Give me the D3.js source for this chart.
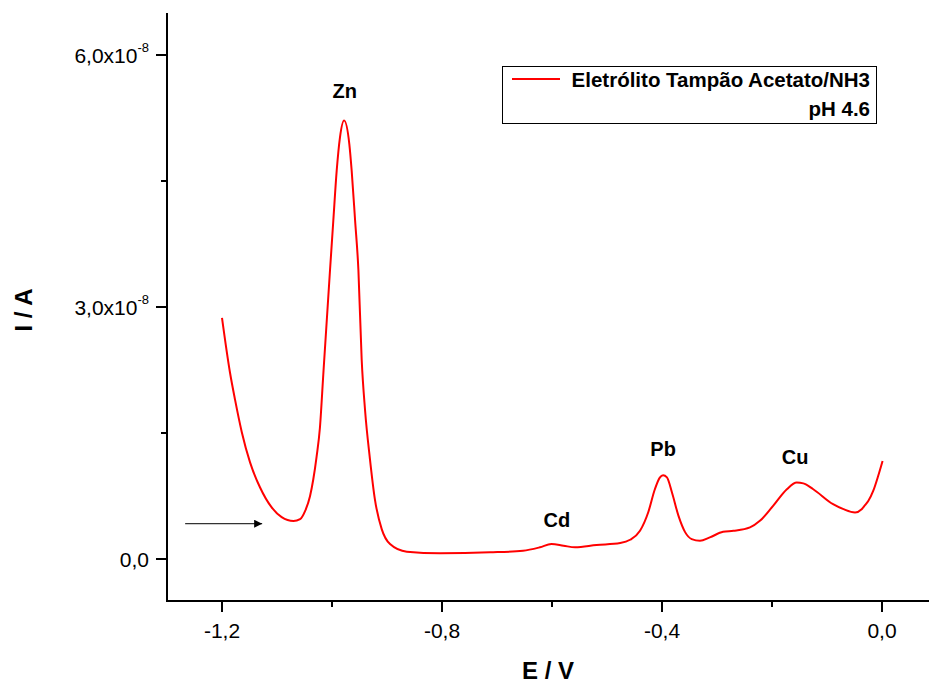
<!DOCTYPE html>
<html>
<head>
<meta charset="utf-8">
<script src="https://cdn.jsdelivr.net/npm/d3@7"></script>
<style>
  body { margin: 0; background: #fff; }
  text { font-family: "Liberation Sans", Arial, sans-serif; }
</style>
</head>
<body>
<div id="chart"></div>
<script>
// potential (V) and current (1e-8 A)
const potential = [-1.2, -1.1855, -1.1764, -1.164, -1.149, -1.131, -1.110, -1.0915, -1.070, -1.058,
  -1.049, -1.040, -1.034, -1.028, -1.022, -1.0158, -1.0036, -0.9976, -0.9915,
  -0.9855, -0.978, -0.9685, -0.9642, -0.958, -0.952, -0.946, -0.940, -0.931, -0.922,
  -0.9096, -0.8945, -0.864, -0.8036, -0.7127, -0.6527, -0.622, -0.601, -0.579, -0.558,
  -0.519, -0.476, -0.458, -0.440, -0.425, -0.413, -0.404, -0.398, -0.391, -0.382,
  -0.370, -0.358, -0.346, -0.331, -0.313, -0.289, -0.270, -0.240, -0.222, -0.198,
  -0.173, -0.155, -0.143, -0.125, -0.089, -0.070, -0.049, -0.037, -0.031, -0.025,
  -0.016, -0.007, 0.001];
const current = [2.87, 2.22, 1.90, 1.51, 1.15, 0.854, 0.617, 0.498, 0.451, 0.474,
  0.569, 0.747, 0.949, 1.22, 1.56, 2.2, 3.44, 4.03, 4.62,
  5.02, 5.22, 4.94, 4.62, 4.03, 3.44, 2.37, 1.78, 1.19, 0.71,
  0.356, 0.178, 0.087, 0.068, 0.079, 0.098, 0.139, 0.178, 0.158, 0.139,
  0.166, 0.19, 0.229, 0.336, 0.557, 0.83, 0.969, 0.996, 0.972, 0.795,
  0.513, 0.32, 0.237, 0.217, 0.257, 0.324, 0.336, 0.376, 0.454, 0.632,
  0.83, 0.91, 0.90, 0.83, 0.652, 0.593, 0.554, 0.593, 0.64, 0.69,
  0.81, 0.988, 1.166];

const xTicks = [-1.2, -0.8, -0.4, 0.0];
const xMinorTicks = [-1.0, -0.6, -0.2];
const yTicks = [0, 3, 6];
const yMinorTicks = [1.5, 4.5];

const peakNames = ['Zn', 'Cd', 'Pb', 'Cu'];
const peakE = [-0.977, -0.591, -0.398, -0.158];
const peakI = [5.49, 0.38, 1.23, 1.13];

const legendLines = ['Eletrólito Tampão Acetato/NH3', 'pH 4.6'];

const width = 929;
const height = 684;

const svg = d3.select('#chart')
  .append('svg')
  .attr('width', width)
  .attr('height', height);

svg.append('defs').append('marker')
  .attr('id', 'head')
  .attr('viewBox', '0 0 10 10')
  .attr('refX', 10).attr('refY', 5)
  .attr('markerWidth', 14).attr('markerHeight', 8)
  .attr('markerUnits', 'userSpaceOnUse')
  .attr('orient', 'auto')
  .append('path')
  .attr('d', 'M0,0L10,5L0,10Z')
  .attr('fill', '#000');

const xScale = d3.scaleLinear().domain([-1.3, 0.1]).range([167, 937]);
const yScale = d3.scaleLinear().domain([-0.5, 6.5]).range([601, 13]);

// x axis
const xAxis = svg.append('g').attr('transform', `translate(0, ${yScale(-0.5)})`);
xAxis.append('line')
  .attr('x1', 166).attr('x2', 937)
  .attr('stroke', '#000').attr('stroke-width', 2);
xAxis.selectAll('.maj').data(xTicks).enter().append('line')
  .attr('x1', d => xScale(d)).attr('x2', d => xScale(d))
  .attr('y1', 0).attr('y2', 11)
  .attr('stroke', '#000').attr('stroke-width', 2);
xAxis.selectAll('.min').data(xMinorTicks).enter().append('line')
  .attr('x1', d => xScale(d)).attr('x2', d => xScale(d))
  .attr('y1', 0).attr('y2', 6)
  .attr('stroke', '#000').attr('stroke-width', 2);
xAxis.selectAll('text').data(xTicks).enter().append('text')
  .attr('x', d => xScale(d))
  .attr('y', 37)
  .attr('text-anchor', 'middle')
  .attr('font-size', 21)
  .text(d => d3.format('.1f')(d).replace('.', ',').replace('−', '-'));

// y axis
const yAxis = svg.append('g').attr('transform', `translate(${xScale(-1.3)}, 0)`);
yAxis.append('line')
  .attr('y1', 13).attr('y2', 602)
  .attr('stroke', '#000').attr('stroke-width', 2);
yAxis.selectAll('.maj').data(yTicks).enter().append('line')
  .attr('y1', d => yScale(d)).attr('y2', d => yScale(d))
  .attr('x1', 0).attr('x2', -11)
  .attr('stroke', '#000').attr('stroke-width', 2);
yAxis.selectAll('.min').data(yMinorTicks).enter().append('line')
  .attr('y1', d => yScale(d)).attr('y2', d => yScale(d))
  .attr('x1', 0).attr('x2', -6)
  .attr('stroke', '#000').attr('stroke-width', 2);
const yLabels = yAxis.selectAll('text').data(yTicks).enter().append('text')
  .attr('x', -18)
  .attr('y', d => yScale(d) + 8)
  .attr('text-anchor', 'end')
  .attr('font-size', 21);
yLabels.each(function (d) {
  const t = d3.select(this);
  t.append('tspan').text(d3.format('.1f')(d).replace('.', ','));
  if (d !== 0) {
    t.append('tspan').text('x10');
    t.append('tspan').attr('font-size', 13).attr('dy', -11).text('-8');
  }
});

// axis titles
svg.append('text')
  .attr('x', 548).attr('y', 679)
  .attr('text-anchor', 'middle')
  .attr('font-size', 24).attr('font-weight', 'bold')
  .text('E / V');
svg.append('text')
  .attr('transform', 'translate(32, 310) rotate(-90)')
  .attr('text-anchor', 'middle')
  .attr('font-size', 24).attr('font-weight', 'bold')
  .text('I / A');

// curve
const points = potential.map((e, i) => [e, current[i]]);
const line = d3.line()
  .x(d => xScale(d[0]))
  .y(d => yScale(d[1]))
  .curve(d3.curveMonotoneX);
svg.append('path')
  .datum(points)
  .attr('d', line)
  .attr('fill', 'none')
  .attr('stroke', '#ff0000')
  .attr('stroke-width', 2);

// peak labels
svg.selectAll('.peak').data(peakNames).enter().append('text')
  .attr('x', (d, i) => xScale(peakE[i]))
  .attr('y', (d, i) => yScale(peakI[i]))
  .attr('text-anchor', 'middle')
  .attr('font-size', 20).attr('font-weight', 'bold')
  .text(d => d);

// arrow
svg.append('line')
  .attr('x1', xScale(-1.267)).attr('x2', xScale(-1.127))
  .attr('y1', yScale(0.42)).attr('y2', yScale(0.42))
  .attr('stroke', '#333').attr('stroke-width', 1.3)
  .attr('marker-end', 'url(#head)');

// legend
const legend = svg.append('g');
legend.append('rect')
  .attr('x', 502.5).attr('y', 66.5)
  .attr('width', 374).attr('height', 57)
  .attr('fill', '#fff').attr('stroke', '#000').attr('stroke-width', 1);
legend.append('line')
  .attr('x1', 512).attr('x2', 560)
  .attr('y1', 79).attr('y2', 79)
  .attr('stroke', '#ff0000').attr('stroke-width', 2);
legend.selectAll('text').data(legendLines).enter().append('text')
  .attr('x', 870)
  .attr('y', (d, i) => 87 + i * 29)
  .attr('text-anchor', 'end')
  .attr('font-size', 20.5).attr('font-weight', 'bold')
  .text(d => d);
</script>
</body>
</html>
